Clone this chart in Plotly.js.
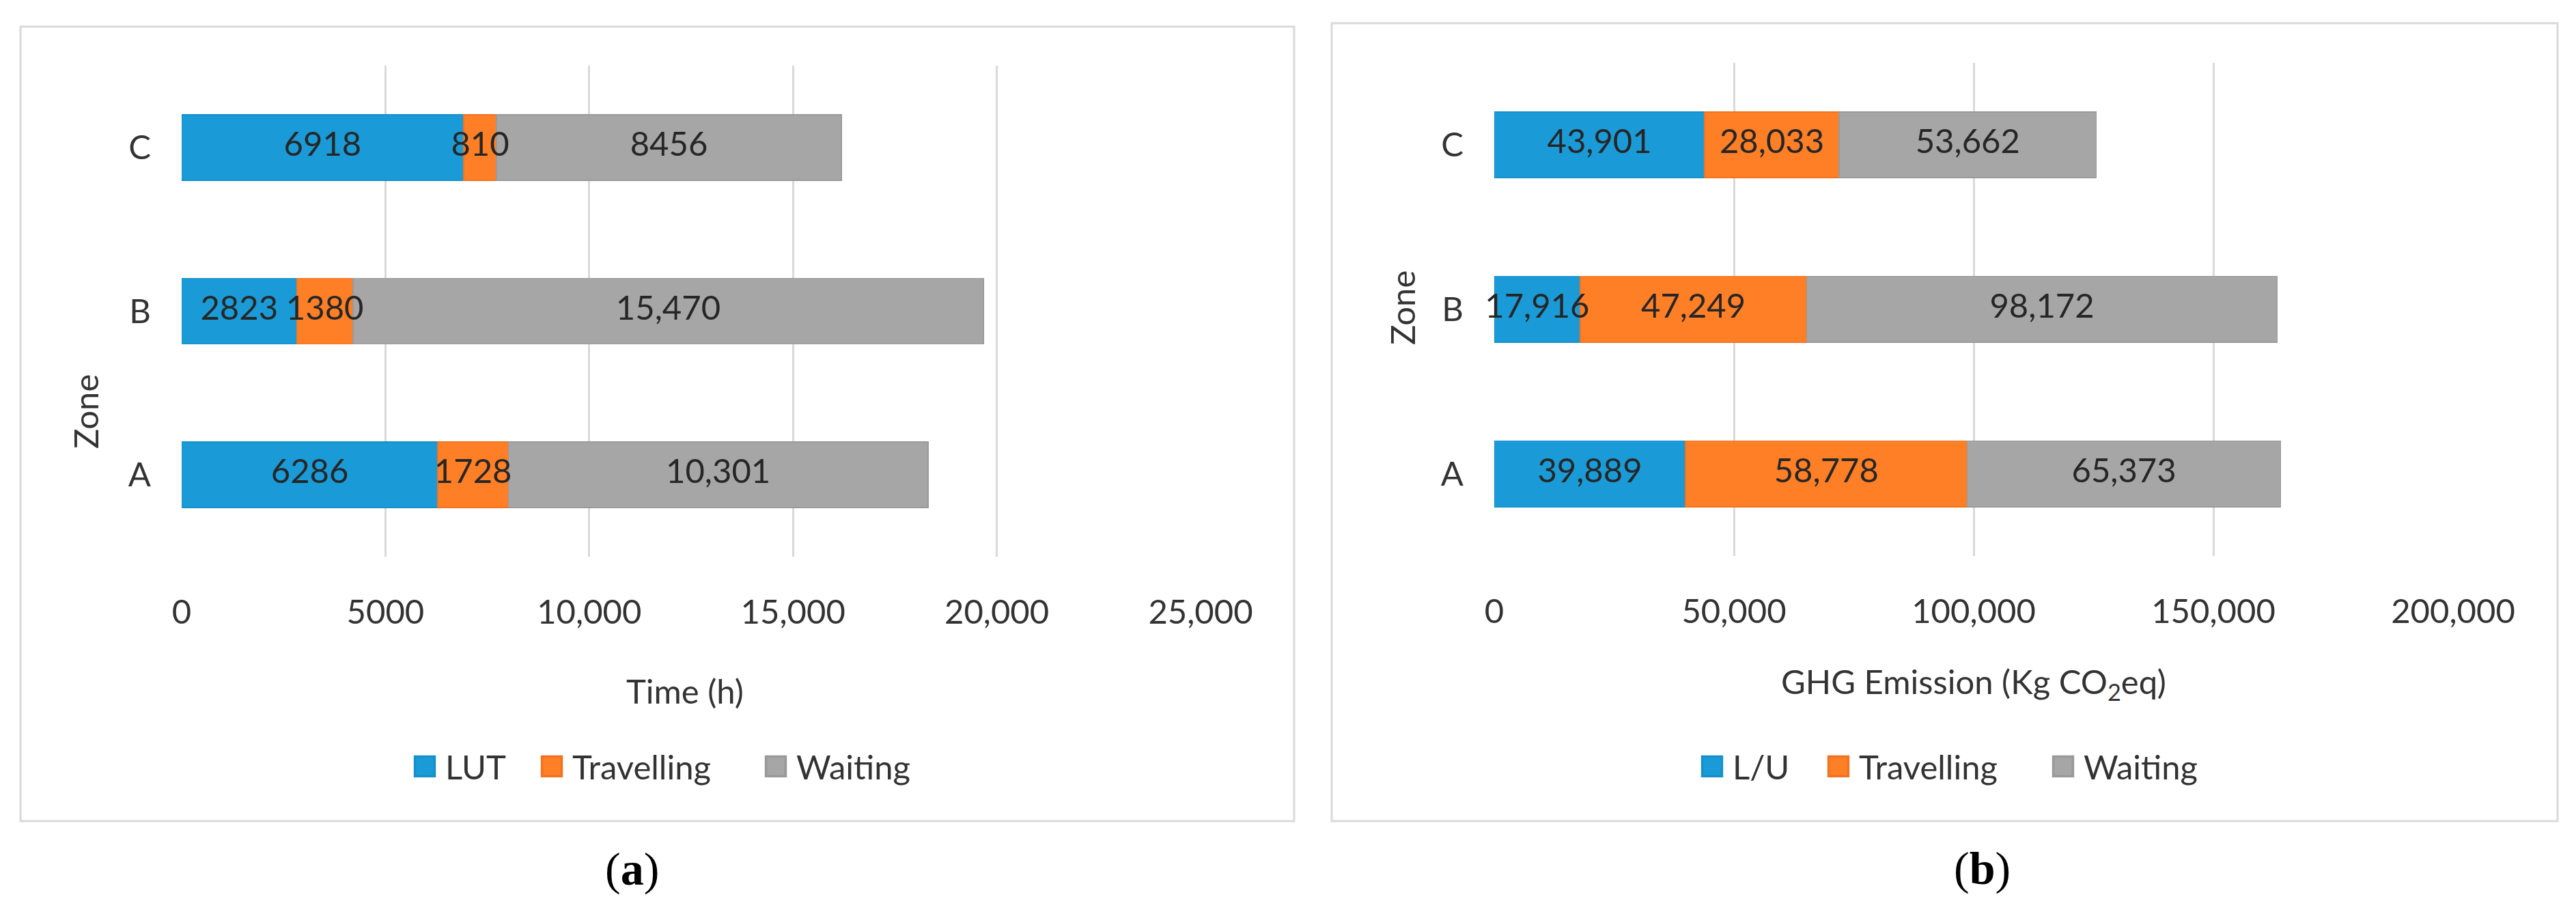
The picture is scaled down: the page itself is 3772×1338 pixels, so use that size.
<!DOCTYPE html>
<html>
<head>
<meta charset="utf-8">
<script src="https://cdn.plot.ly/plotly-3.0.1.min.js"></script>
<style>
  html, body { margin: 0; padding: 0; background: #ffffff; }
  #chart { width: 3772px; height: 1338px; }
</style>
</head>
<body>
<div id="chart"></div>
<script>
// ---------- data ----------
const zones = ['A', 'B', 'C'];

// (a) Time (h)
const timeSeriesNames = ['LUT', 'Travelling', 'Waiting'];
const timeLUT = [6286, 2823, 6918];
const timeTravelling = [1728, 1380, 810];
const timeWaiting = [10301, 15470, 8456];

// (b) GHG Emission (Kg CO2eq)
const ghgSeriesNames = ['L/U', 'Travelling', 'Waiting'];
const ghgLU = [39889, 17916, 43901];
const ghgTravelling = [58778, 47249, 28033];
const ghgWaiting = [65373, 98172, 53662];

const timeTicks = [0, 5000, 10000, 15000, 20000, 25000];
const ghgTicks = [0, 50000, 100000, 150000, 200000];

// ---------- styling ----------
const W = 3772, H = 1338;
const colors = ['#1A9BD7', '#FF7F27', '#A6A6A6'];
const lineColors = ['#1790C9', '#F07420', '#999999'];
const FONT = 'Lato, "Open Sans", sans-serif';
const FS = 49;
const TXT = '#333333';
const ITEMW = 50;
// left edge (px) of each legend swatch
const legendSwatchLeft = [602, 788, 1116, 2487, 2672, 3001];

function fmt(v) {
  return v >= 10000 ? v.toLocaleString('en-US') : String(v);
}
function px(x) { return x / W; }
function py(y) { return 1 - y / H; }
function legName(k) { return k === 0 ? 'legend' : 'legend' + (k + 1); }

function mkBar(name, vals, i, xa, ya, k) {
  return {
    type: 'bar', orientation: 'h',
    name: name, x: vals, y: zones,
    xaxis: xa, yaxis: ya, legend: legName(k),
    marker: { color: colors[i], line: { color: lineColors[i], width: 1.5 } },
    hoverinfo: 'skip'
  };
}

// data labels centred in each stacked segment, drawn above all bars
function mkLabels(series, xa, ya) {
  const xs = [], ys = [], ts = [];
  zones.forEach(function (z, j) {
    let base = 0;
    series.forEach(function (vals) {
      xs.push(base + vals[j] / 2);
      ys.push(z);
      ts.push(fmt(vals[j]));
      base += vals[j];
    });
  });
  return {
    type: 'scatter', mode: 'text', x: xs, y: ys, text: ts,
    xaxis: xa, yaxis: ya, showlegend: false,
    textposition: 'middle center',
    textfont: { family: FONT, size: FS, color: '#262626' },
    cliponaxis: false, hoverinfo: 'skip'
  };
}

const timeSeries = [timeLUT, timeTravelling, timeWaiting];
const ghgSeries = [ghgLU, ghgTravelling, ghgWaiting];

const traces = [
  mkBar(timeSeriesNames[0], timeLUT, 0, 'x', 'y', 0),
  mkBar(timeSeriesNames[1], timeTravelling, 1, 'x', 'y', 1),
  mkBar(timeSeriesNames[2], timeWaiting, 2, 'x', 'y', 2),
  mkBar(ghgSeriesNames[0], ghgLU, 0, 'x2', 'y2', 3),
  mkBar(ghgSeriesNames[1], ghgTravelling, 1, 'x2', 'y2', 4),
  mkBar(ghgSeriesNames[2], ghgWaiting, 2, 'x2', 'y2', 5),
  mkLabels(timeSeries, 'x', 'y'),
  mkLabels(ghgSeries, 'x2', 'y2')
];

const xBase = {
  showgrid: true, gridcolor: '#D9D9D9', gridwidth: 3,
  zeroline: false, showline: false, ticks: '',
  tickmode: 'array',
  tickfont: { family: FONT, size: FS, color: TXT },
  ticklabelstandoff: 48,
  fixedrange: true
};
const yBase = {
  type: 'category', categoryorder: 'array', categoryarray: zones,
  range: [-0.5, 2.5],
  showgrid: false, zeroline: false, showline: false, ticks: '',
  tickfont: { family: FONT, size: FS, color: TXT },
  ticklabelstandoff: 44,
  fixedrange: true
};

const legBase = {
  orientation: 'h', xanchor: 'left', yanchor: 'middle',
  font: { family: FONT, size: FS, color: TXT },
  itemclick: false, itemdoubleclick: false,
  bgcolor: 'rgba(0,0,0,0)', borderwidth: 0, itemwidth: ITEMW
};

const layout = {
  width: W, height: H,
  margin: { l: 0, r: 0, t: 0, b: 0, pad: 0 },
  paper_bgcolor: '#ffffff', plot_bgcolor: 'rgba(0,0,0,0)',
  barmode: 'stack', bargap: 0.6,
  showlegend: true,
  xaxis: Object.assign({}, xBase, {
    domain: [px(266), px(1758)], range: [0, 25000],
    tickvals: timeTicks, ticktext: timeTicks.map(fmt), anchor: 'y'
  }),
  yaxis: Object.assign({}, yBase, {
    domain: [py(815), py(96)], anchor: 'x'
  }),
  xaxis2: Object.assign({}, xBase, {
    domain: [px(2188), px(3592)], range: [0, 200000],
    tickvals: ghgTicks, ticktext: ghgTicks.map(fmt), anchor: 'y2'
  }),
  yaxis2: Object.assign({}, yBase, {
    domain: [py(814), py(91.5)], anchor: 'x2'
  }),
  shapes: [
    { type: 'rect', xref: 'paper', yref: 'paper', x0: px(30), x1: px(1895), y0: py(1202), y1: py(39),
      line: { color: '#D9D9D9', width: 3 }, fillcolor: 'rgba(0,0,0,0)', layer: 'below' },
    { type: 'rect', xref: 'paper', yref: 'paper', x0: px(1950), x1: px(3745), y0: py(1202), y1: py(34),
      line: { color: '#D9D9D9', width: 3 }, fillcolor: 'rgba(0,0,0,0)', layer: 'below' }
  ],
  annotations: [
    { text: 'Time (h)', xref: 'paper', yref: 'paper', x: px(1003), y: py(1011),
      xanchor: 'center', yanchor: 'middle', showarrow: false,
      font: { family: FONT, size: FS, color: TXT } },
    { text: 'GHG Emission (Kg CO<sub>2</sub>eq)', xref: 'paper', yref: 'paper', x: px(2890), y: py(1000),
      xanchor: 'center', yanchor: 'middle', showarrow: false,
      font: { family: FONT, size: FS, color: TXT } },
    { text: 'Zone', xref: 'paper', yref: 'paper', x: px(125), y: py(603), textangle: -90,
      xanchor: 'center', yanchor: 'middle', showarrow: false,
      font: { family: FONT, size: FS, color: TXT } },
    { text: 'Zone', xref: 'paper', yref: 'paper', x: px(2053), y: py(451), textangle: -90,
      xanchor: 'center', yanchor: 'middle', showarrow: false,
      font: { family: FONT, size: FS, color: TXT } },
    { text: '(<b>a</b>)', xref: 'paper', yref: 'paper', x: px(925), y: py(1272),
      xanchor: 'center', yanchor: 'middle', showarrow: false,
      font: { family: '"Liberation Serif", "DejaVu Serif", serif', size: 68, color: '#000000' } },
    { text: '(<b>b</b>)', xref: 'paper', yref: 'paper', x: px(2902), y: py(1271),
      xanchor: 'center', yanchor: 'middle', showarrow: false,
      font: { family: '"Liberation Serif", "DejaVu Serif", serif', size: 68, color: '#000000' } }
  ]
};

legendSwatchLeft.forEach(function (sx, k) {
  layout[legName(k)] = Object.assign({}, legBase, { x: px(sx - 10), y: py(1122) });
});

Plotly.newPlot('chart', traces, layout, { staticPlot: true, displayModeBar: false }).then(function () {
  document.querySelectorAll('.legendpoints path').forEach(function (p) {
    var t = p.getAttribute('transform') || '';
    p.setAttribute('transform', t + ' scale(2.4)');
  });
});
</script>
</body>
</html>
